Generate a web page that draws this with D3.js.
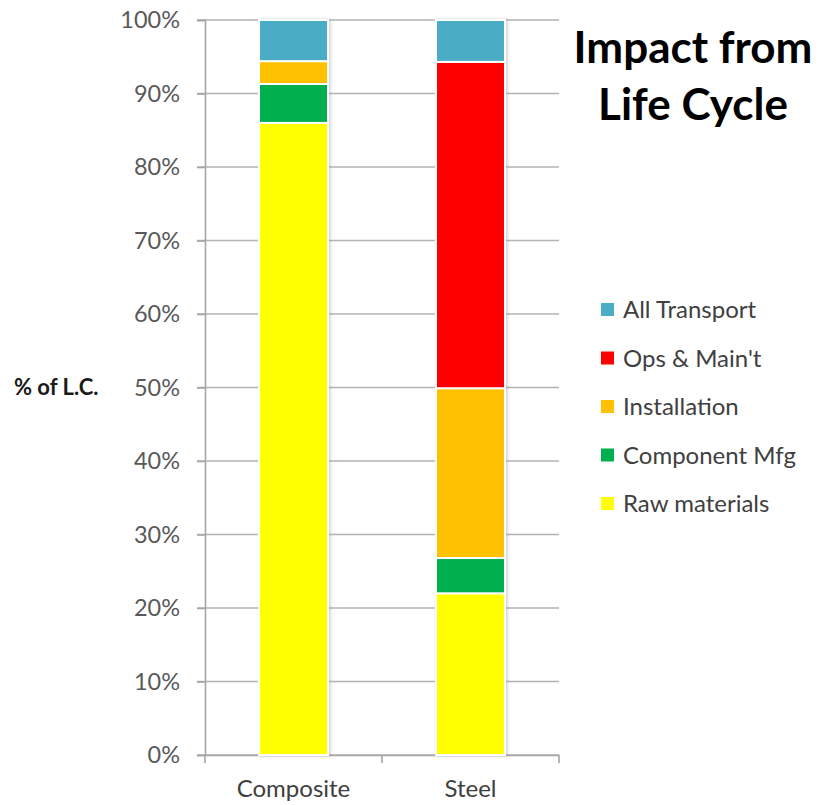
<!DOCTYPE html>
<html><head><meta charset="utf-8">
<script src="https://cdn.jsdelivr.net/npm/d3@7"></script>
<style>body{margin:0;background:#fff}svg{display:block}</style>
</head><body>
<svg id="c" width="821" height="805"></svg>
<script>
const categories = ["Composite", "Steel"];
const seriesNames = ["Raw materials", "Component Mfg", "Installation", "Ops & Main't", "All Transport"];
const seriesColors = ["#FFFF00", "#00B050", "#FFC000", "#FF0000", "#4BACC6"];
const rawMaterials = [86.0, 22.0];
const componentMfg = [5.3, 4.8];
const installation = [3.1, 23.1];
const opsMaint = [0.0, 44.4];
const allTransport = [5.6, 5.7];
const yTicks = [0, 10, 20, 30, 40, 50, 60, 70, 80, 90, 100];
const yTitle = "% of L.C.";
const titleLines = ["Impact from", "Life Cycle"];

const seriesValues = [rawMaterials, componentMfg, installation, opsMaint, allTransport];
const rows = categories.map((c, i) => {
  const o = {cat: c};
  seriesNames.forEach((s, j) => o[s] = seriesValues[j][i]);
  return o;
});

const svg = d3.select("#c");
const font = "Lato, 'Open Sans', sans-serif";
const m = {left: 205, right: 559, top: 20, bottom: 755};

const x = d3.scaleBand().domain(categories).range([m.left, m.right]).paddingInner(0.61).paddingOuter(0.305);
const y = d3.scaleLinear().domain([0, 100]).range([m.bottom, m.top]);

const defs = svg.append("defs");
const f = defs.append("filter").attr("id", "sh").attr("x", "-20%").attr("y", "-5%").attr("width", "140%").attr("height", "110%");
f.append("feDropShadow").attr("dx", 1.5).attr("dy", 0).attr("stdDeviation", 1.5).attr("flood-color", "#9090a8").attr("flood-opacity", 0.45);

// gridlines
svg.append("g").selectAll("line").data(yTicks).join("line")
  .attr("x1", m.left - 8).attr("x2", m.right)
  .attr("y1", d => y(d)).attr("y2", d => y(d))
  .attr("stroke", "#b3b3b3").attr("stroke-width", 1.6);

// y axis
const yAxis = svg.append("g").attr("transform", `translate(${m.left},0)`)
  .call(d3.axisLeft(y).tickValues(yTicks).tickFormat(d => d + "%").tickSize(8).tickPadding(17));
yAxis.select(".domain").attr("stroke", "#a6a6a6").attr("stroke-width", 1.6);
yAxis.selectAll(".tick line").attr("stroke", "#a6a6a6").attr("stroke-width", 1.6);
yAxis.selectAll("text").attr("font-family", font).attr("font-size", 23.5).attr("fill", "#595959");

// x axis
const xAxis = svg.append("g").attr("transform", `translate(0,${m.bottom})`)
  .call(d3.axisBottom(x).tickSize(0).tickPadding(25));
xAxis.select(".domain").attr("stroke", "#a6a6a6").attr("stroke-width", 1.6);
xAxis.selectAll("text").attr("font-family", font).attr("font-size", 24).attr("fill", "#404040");
// category separator ticks
const sepX = [m.left, (x(categories[0]) + x.bandwidth() + x(categories[1])) / 2, m.right];
svg.append("g").selectAll("line").data(sepX).join("line")
  .attr("x1", d => d).attr("x2", d => d).attr("y1", m.bottom).attr("y2", m.bottom + 8)
  .attr("stroke", "#a6a6a6").attr("stroke-width", 1.6);

// stacked bars
const stack = d3.stack().keys(seriesNames)(rows);
const g = svg.append("g").attr("filter", "url(#sh)");
stack.forEach((layer, j) => {
  g.append("g").selectAll("rect").data(layer.filter(d => d[1] - d[0] > 0)).join("rect")
    .attr("x", d => x(d.data.cat))
    .attr("width", x.bandwidth())
    .attr("y", d => y(d[1]))
    .attr("height", d => y(d[0]) - y(d[1]))
    .attr("fill", seriesColors[j])
    .attr("stroke", "#ffffff").attr("stroke-width", 2);
});

// y title
svg.append("text").attr("x", 14).attr("y", 395).text(yTitle)
  .attr("font-family", font).attr("font-size", 22).attr("font-weight", "bold").attr("fill", "#1a1a1a");

// title
svg.append("g").selectAll("text").data(titleLines).join("text")
  .attr("x", 693).attr("y", (d, i) => 63 + i * 57).attr("text-anchor", "middle")
  .text(d => d).attr("font-family", font).attr("font-size", 44).attr("font-weight", "bold").attr("fill", "#000");

// legend (top to bottom reversed)
const legendItems = seriesNames.map((s, j) => ({name: s, color: seriesColors[j]})).reverse();
const lg = svg.append("g").selectAll("g").data(legendItems).join("g")
  .attr("transform", (d, i) => `translate(601,${310 + i * 48.5})`);
lg.append("rect").attr("x", 0).attr("y", -7).attr("width", 13).attr("height", 13).attr("fill", d => d.color);
lg.append("text").attr("x", 22).attr("y", 8).text(d => d.name)
  .attr("font-family", font).attr("font-size", 24).attr("fill", "#404040");
</script>
</body></html>
